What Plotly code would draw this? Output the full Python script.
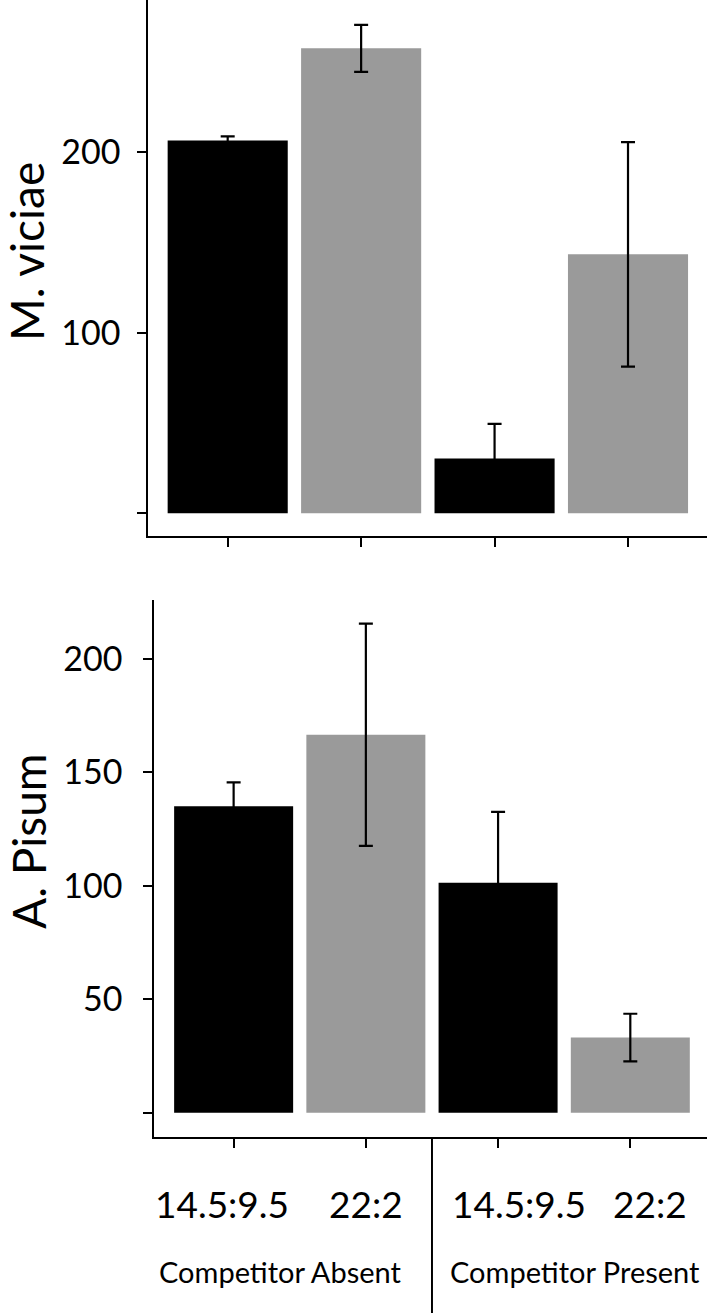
import plotly.graph_objects as go

# ---- data ----
categories = ["14.5:9.5", "22:2", "14.5:9.5", "22:2"]
groups = ["Competitor Absent", "Competitor Present"]
viciae_values = [206.6, 257.6, 30.3, 143.5]
viciae_errors = [2.2, 13.0, 19.2, 62.2]
pisum_values = [135.1, 166.6, 101.4, 33.1]
pisum_errors = [10.5, 49.0, 31.2, 10.5]
viciae_ticks = [0, 100, 200]
viciae_ticktext = ["", "100", "200"]
pisum_ticks = [0, 50, 100, 150, 200]
pisum_ticktext = ["", "50", "100", "150", "200"]

# ---- styling ----
W, H = 709, 1315
FONT = "Lato"
bar_colors = ["#000000", "#9a9a9a", "#000000", "#9a9a9a"]
label_shift = [-0.09, 0.0, 0.16, 0.15]

def px_x(p):
    return p / W

def px_y(p):
    return 1 - p / H

idx = list(range(len(categories)))

fig = go.Figure()
fig.add_trace(go.Bar(
    x=idx, y=viciae_values, width=0.9,
    marker=dict(color=bar_colors, line=dict(width=0)),
    error_y=dict(type="data", array=viciae_errors, visible=True,
                 color="black", thickness=2.2, width=7),
    xaxis="x", yaxis="y", showlegend=False,
))
fig.add_trace(go.Bar(
    x=idx, y=pisum_values, width=0.9,
    marker=dict(color=bar_colors, line=dict(width=0)),
    error_y=dict(type="data", array=pisum_errors, visible=True,
                 color="black", thickness=2.2, width=7),
    xaxis="x2", yaxis="y2", showlegend=False,
))

axis_common = dict(showline=True, linecolor="black", linewidth=2,
                   ticks="outside", tickcolor="black", tickwidth=1.5,
                   ticklen=9, showgrid=False, zeroline=False,
                   tickfont=dict(family=FONT, size=34, color="black"))

fig.update_layout(
    width=W, height=H,
    margin=dict(l=0, r=0, t=0, b=0),
    paper_bgcolor="white", plot_bgcolor="white",
    font=dict(family=FONT, color="black"),
    xaxis=dict(domain=[px_x(148.3), px_x(707)], range=[-0.595, 3.592],
               anchor="y", tickvals=idx, ticktext=[""] * 4, **axis_common),
    yaxis=dict(domain=[px_y(536), 1.0], range=[-12.6, 284.4],
               anchor="x", tickvals=viciae_ticks, ticktext=viciae_ticktext,
               ticklabelstandoff=10, **axis_common),
    xaxis2=dict(domain=[px_x(154.3), px_x(707)], range=[-0.6, 3.58],
                anchor="y2", tickvals=idx, ticktext=[""] * 4, **axis_common),
    yaxis2=dict(domain=[px_y(1136.7), px_y(600)], range=[-10.6, 226],
                anchor="x2", tickvals=pisum_ticks, ticktext=pisum_ticktext,
                ticklabelstandoff=14, **axis_common),
)

annotations = []
# y titles
annotations.append(dict(text="M. viciae", x=px_x(27), y=px_y(252), xref="paper", yref="paper",
                        textangle=-90, showarrow=False, xanchor="center", yanchor="middle",
                        font=dict(family=FONT, size=46, color="black")))
annotations.append(dict(text="A. Pisum", x=px_x(28), y=px_y(841), xref="paper", yref="paper",
                        textangle=-90, showarrow=False, xanchor="center", yanchor="middle",
                        font=dict(family=FONT, size=46, color="black")))
# category labels
for i, c in enumerate(categories):
    annotations.append(dict(text=c, x=i + label_shift[i], y=px_y(1203), xref="x2", yref="paper",
                            showarrow=False, xanchor="center", yanchor="middle",
                            font=dict(family=FONT, size=37, color="black")))
# group labels
for g, cx in zip(groups, [280, 575]):
    annotations.append(dict(text=g, x=px_x(cx), y=px_y(1271), xref="paper", yref="paper",
                            showarrow=False, xanchor="center", yanchor="middle",
                            font=dict(family=FONT, size=29, color="black")))
fig.update_layout(annotations=annotations)

# divider between groups
fig.add_shape(type="line", xref="x2", yref="paper", x0=1.5, x1=1.5,
              y0=px_y(1137), y1=px_y(1313), line=dict(color="black", width=2))

fig.write_html("out.html", config={"displayModeBar": False},
               post_script="document.body.style.margin='0';document.body.style.overflow='hidden';")
